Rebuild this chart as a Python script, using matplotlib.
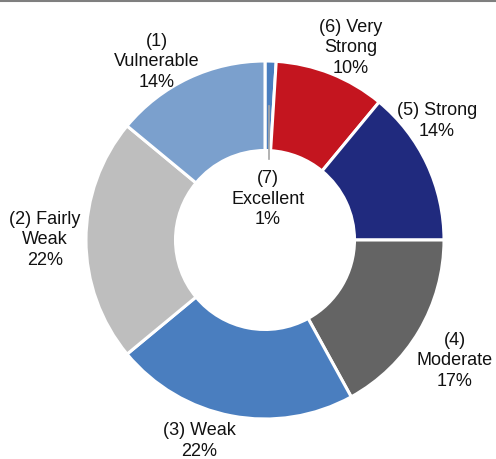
import matplotlib
matplotlib.use('Agg')
import matplotlib.pyplot as plt
from matplotlib.lines import Line2D

plt.rcParams['font.family'] = ['Liberation Sans', 'DejaVu Sans']

# slices in drawing order, clockwise from 12 o'clock
categories = ['(7)\nExcellent', '(6) Very\nStrong', '(5) Strong', '(4)\nModerate',
              '(3) Weak', '(2) Fairly\nWeak', '(1)\nVulnerable']
shares = [1, 10, 14, 17, 22, 22, 14]
colors = ['#4A7EBF', '#C4151F', '#202A7E', '#646464', '#4A7EBF', '#BEBEBE', '#7BA0CD']

# label centres in pixels (x, y from top)
label_pos = [(268, 199), (351, 48), (437, 121), (455, 361),
             (199, 441), (45, 240), (157, 62)]

W, H = 496, 460
fig = plt.figure(figsize=(W / 100, H / 100), dpi=100)
ax = fig.add_axes([0, 0, 1, 1])

cx, cy, r = 265, H - 241, 179
ax.pie(shares, colors=colors, startangle=90, counterclock=False,
       center=(cx, cy), radius=r, frame=True,
       wedgeprops=dict(width=r * 0.5, edgecolor='white', linewidth=2.2))

for cat, val, (x, y) in zip(categories, shares, label_pos):
    ax.text(x, H - y, '%s\n%d%%' % (cat, val), ha='center', va='center',
            fontsize=13, linespacing=1.3, color='#111111')

# leader line for the tiny slice
ax.plot([269, 269], [H - 160, H - 107], color='#A6A6A6', lw=1.2)

ax.set_xlim(0, W)
ax.set_ylim(0, H)
ax.set_aspect('equal')
ax.axis('off')

fig.add_artist(Line2D([0, 1], [1 - 1.5 / H, 1 - 1.5 / H], color='#7F7F7F', lw=1.5))

fig.savefig('out.png', dpi=100)
